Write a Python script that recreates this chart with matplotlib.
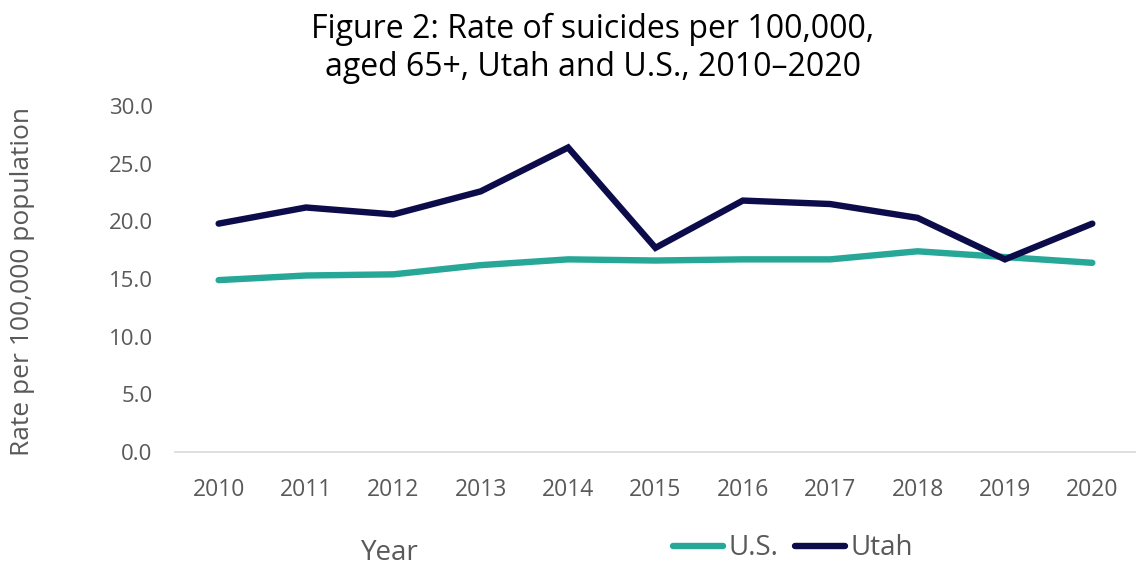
import matplotlib.pyplot as plt

years = ["2010", "2011", "2012", "2013", "2014", "2015", "2016", "2017", "2018", "2019", "2020"]
us_rate = [14.9, 15.3, 15.4, 16.2, 16.7, 16.6, 16.7, 16.7, 17.4, 16.9, 16.4]
utah_rate = [19.8, 21.2, 20.6, 22.6, 26.4, 17.7, 21.8, 21.5, 20.3, 16.7, 19.8]
y_ticks = [0, 5, 10, 15, 20, 25, 30]

plt.rcParams["font.family"] = ["Open Sans", "DejaVu Sans"]
gray = "#595959"

fig = plt.figure(figsize=(11.36, 5.67), dpi=100)
ax = fig.add_axes([0.154, 0.203, 0.846, 0.610])

x = range(len(years))
ax.plot(x, us_rate, color="#26a797", linewidth=4.6, solid_capstyle="round", solid_joinstyle="miter", label="U.S.")
ax.plot(x, utah_rate, color="#0c0c4b", linewidth=4.6, solid_capstyle="round", solid_joinstyle="miter", label="Utah")

ax.set_xlim(-0.5, len(years) - 0.5)
ax.set_ylim(0, 30)
ax.set_xticks(list(x))
ax.set_xticklabels(years)
ax.set_yticks(y_ticks)
ax.set_yticklabels([f"{v:.1f}" for v in y_ticks])
ax.tick_params(axis="x", length=0, pad=19, labelsize=16.5, labelcolor=gray)
ax.tick_params(axis="y", length=0, pad=16, labelsize=16, labelcolor=gray)

for side in ["top", "right", "left"]:
    ax.spines[side].set_visible(False)
ax.spines["bottom"].set_color("#d9d9d9")
ax.spines["bottom"].set_linewidth(1.2)

# Title on two lines
fig.text(0.522, 0.915, "Figure 2: Rate of suicides per 100,000,\naged 65+, Utah and U.S., 2010\u20132020",
         ha="center", va="center", fontsize=23, color="#000000", linespacing=1.2)
fig.text(0.020, 0.503, "Rate per 100,000 population", rotation=90, ha="center", va="center",
         fontsize=19, color=gray)
fig.text(0.343, 0.024, "Year", ha="center", va="center", fontsize=20, color=gray)

fig.legend(loc="center", bbox_to_anchor=(0.698, 0.033), ncol=2, frameon=False,
           fontsize=20, handlelength=1.8, handletextpad=0.2, columnspacing=0.6,
           labelcolor=gray)

fig.savefig("out.png", dpi=100)
